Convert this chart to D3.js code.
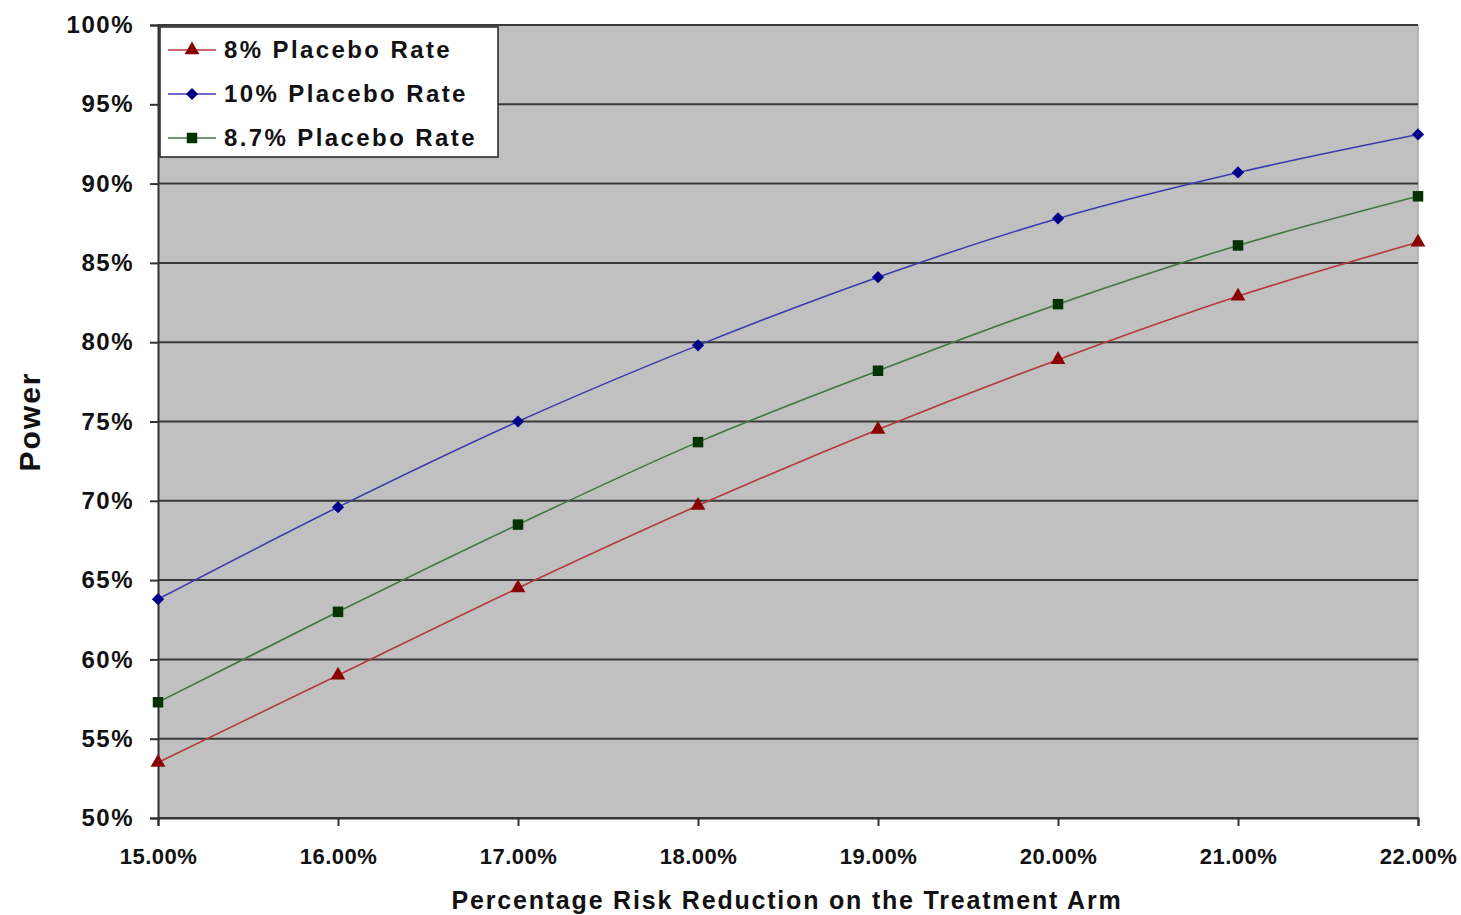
<!DOCTYPE html>
<html>
<head>
<meta charset="utf-8">
<script src="https://cdn.jsdelivr.net/npm/d3@7"></script>
<style>
  body { margin: 0; background: #fff; }
  text { font-family: "Liberation Sans", Arial, sans-serif; font-weight: bold; fill: #111; }
</style>
</head>
<body>
<div id="chart"></div>
<script>
// risk reduction (%) on the x axis
var reductions = [15, 16, 17, 18, 19, 20, 21, 22];
// power (%) per placebo rate
var rate8 = [53.5, 59.0, 64.5, 69.7, 74.5, 78.9, 82.9, 86.3];
var rate10 = [63.8, 69.6, 75.0, 79.8, 84.1, 87.8, 90.7, 93.1];
var rate87 = [57.3, 63.0, 68.5, 73.7, 78.2, 82.4, 86.1, 89.2];
var yTicks = [50, 55, 60, 65, 70, 75, 80, 85, 90, 95, 100];

var series = [
  {name: "8% Placebo Rate", values: rate8, line: "#b5393a", fill: "#8b0000", shape: "triangle"},
  {name: "10% Placebo Rate", values: rate10, line: "#3b3bb0", fill: "#00008b", shape: "diamond"},
  {name: "8.7% Placebo Rate", values: rate87, line: "#3d7a3d", fill: "#003300", shape: "square"}
];

var width = 1461, height = 915;
var margin = {top: 25, right: 43, bottom: 97, left: 158};
var w = width - margin.left - margin.right;
var h = height - margin.top - margin.bottom;

// marker shape: the diamond is a square turned 45 degrees, as in Excel
function marker(sel, shape, fill) {
  if (shape === "triangle") {
    sel.append("path").attr("d", d3.symbol().type(d3.symbolTriangle).size(95)).attr("fill", fill);
  } else if (shape === "diamond") {
    sel.append("path").attr("d", d3.symbol().type(d3.symbolSquare).size(75))
        .attr("transform", "rotate(45)").attr("fill", fill);
  } else {
    sel.append("path").attr("d", d3.symbol().type(d3.symbolSquare).size(110)).attr("fill", fill);
  }
}

var svg = d3.select("#chart").append("svg")
    .attr("width", width)
    .attr("height", height);

var g = svg.append("g")
    .attr("transform", "translate(" + margin.left + "," + margin.top + ")");

var x = d3.scaleLinear().domain([15, 22]).range([0, w]);
var y = d3.scaleLinear().domain([50, 100]).range([h, 0]);

// plot background
g.append("rect")
    .attr("width", w).attr("height", h)
    .attr("fill", "#c0c0c0");
g.append("line")
    .attr("x1", w).attr("x2", w).attr("y1", 0).attr("y2", h)
    .attr("stroke", "#a8a8a8").attr("stroke-width", 1.5);

// gridlines
g.selectAll(".grid")
    .data(yTicks)
  .enter().append("line")
    .attr("class", "grid")
    .attr("x1", 0).attr("x2", w)
    .attr("y1", function(d) { return y(d); })
    .attr("y2", function(d) { return y(d); })
    .attr("stroke", "#3a3a3a")
    .attr("stroke-width", 2);

// y axis
var yAxis = g.append("g")
    .call(d3.axisLeft(y).tickValues(yTicks).tickSize(8).tickPadding(16)
      .tickFormat(function(d) { return d + "%"; }));
yAxis.select(".domain").attr("stroke", "#333").attr("stroke-width", 2);
yAxis.selectAll(".tick line").attr("stroke", "#333").attr("stroke-width", 2);
yAxis.selectAll("text")
    .style("font-size", "24px")
    .style("letter-spacing", "1.5px")
    .attr("fill", "#111");

// x axis
var xAxis = g.append("g")
    .attr("transform", "translate(0," + h + ")")
    .call(d3.axisBottom(x).tickValues(reductions).tickSize(8).tickPadding(22)
      .tickFormat(function(d) { return d.toFixed(2) + "%"; }));
xAxis.select(".domain").attr("stroke", "#333").attr("stroke-width", 2);
xAxis.selectAll(".tick line").attr("stroke", "#333").attr("stroke-width", 2);
xAxis.selectAll("text")
    .style("font-size", "22px")
    .style("letter-spacing", "0.5px")
    .attr("fill", "#222");

// lines
var line = d3.line()
    .x(function(d, i) { return x(reductions[i]); })
    .y(function(d) { return y(d); })
    .curve(d3.curveMonotoneX);

series.forEach(function(s) {
  g.append("path")
      .datum(s.values)
      .attr("fill", "none")
      .attr("stroke", s.line)
      .attr("stroke-width", 1.6)
      .attr("d", line);

  g.selectAll(null)
      .data(s.values)
    .enter().append("g")
      .attr("transform", function(d, i) { return "translate(" + x(reductions[i]) + "," + y(d) + ")"; })
      .each(function() { marker(d3.select(this), s.shape, s.fill); });
});

// legend
var legend = g.append("g").attr("transform", "translate(2,2)");
legend.append("rect")
    .attr("width", 338).attr("height", 130)
    .attr("fill", "#fff")
    .attr("stroke", "#222")
    .attr("stroke-width", 1.5);

series.forEach(function(s, i) {
  var ly = 23 + i * 44;
  legend.append("line")
      .attr("x1", 8).attr("x2", 56)
      .attr("y1", ly).attr("y2", ly)
      .attr("stroke", s.line).attr("stroke-width", 1.6);
  marker(legend.append("g").attr("transform", "translate(32," + ly + ")"), s.shape, s.fill);
  legend.append("text")
      .attr("x", 64).attr("y", ly + 8)
      .style("font-size", "24px")
      .style("letter-spacing", "2.4px")
      .text(s.name);
});

// axis titles
svg.append("text")
    .attr("x", margin.left + w / 2 - 1)
    .attr("y", 909)
    .attr("text-anchor", "middle")
    .style("font-size", "25px")
    .style("letter-spacing", "1.8px")
    .text("Percentage Risk Reduction on the Treatment Arm");

svg.append("text")
    .attr("transform", "translate(40," + (margin.top + h / 2) + ") rotate(-90)")
    .attr("text-anchor", "middle")
    .style("font-size", "30px")
    .style("letter-spacing", "2px")
    .text("Power");
</script>
</body>
</html>
